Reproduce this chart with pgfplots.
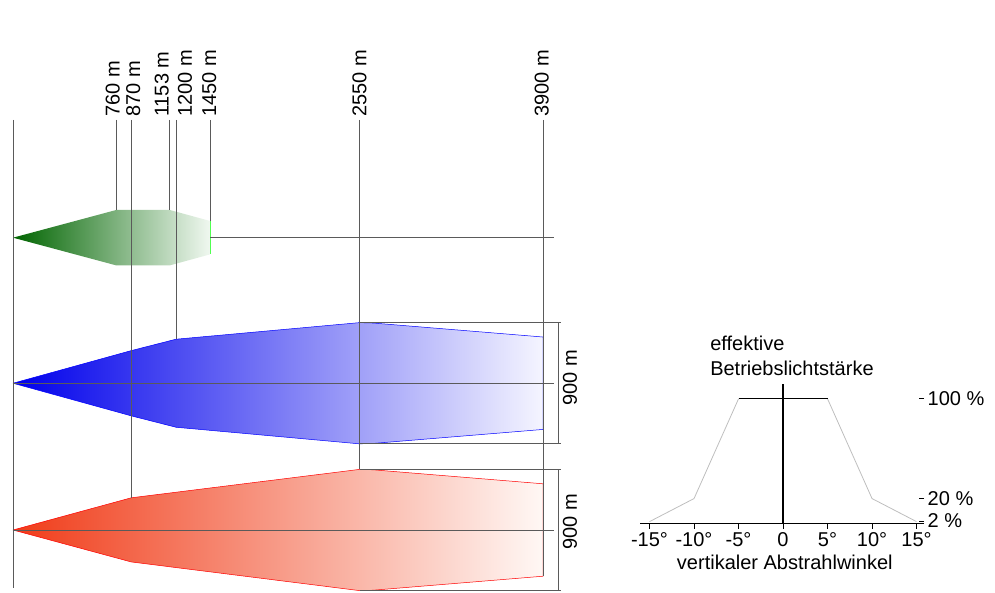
\documentclass[border=0pt]{standalone}
\usepackage{fontspec}
\setmainfont{Liberation Sans}
\usepackage{pgfplots}
\pgfplotsset{compat=1.18}
\definecolor{gdark}{RGB}{0,100,0}
\definecolor{gend}{RGB}{240,248,240}
\definecolor{bdark}{RGB}{0,0,235}
\definecolor{bend}{RGB}{245,245,255}
\definecolor{rdark}{RGB}{240,60,25}
\definecolor{rend}{RGB}{255,248,245}
\definecolor{lin}{RGB}{90,90,90}
\definecolor{lime}{RGB}{80,255,80}
\definecolor{curve}{RGB}{190,190,190}
\begin{document}
\begin{tikzpicture}[font=\fontsize{20}{24}\selectfont]
\begin{axis}[at={(0pt,0pt)}, anchor=south west, scale only axis, hide axis, clip=false,
  x=0.1359pt, y=0.1359pt, xmin=-95.66, xmax=7226, ymin=-456.2, ymax=3900]
% beams
\addplot[draw=none, left color=gdark, right color=gend] coordinates
  {(0,2151) (760,2355) (1153,2355) (1450,2274) (1450,2028) (1153,1947) (760,1947) (0,2151)};
\addplot[draw=blue, line width=0.5pt, left color=bdark, right color=bend] coordinates
  {(0,1080) (870,1320) (1200,1404) (2550,1526) (2650,1523) (3900,1420) (3900,740) (2650,637) (2550,634) (1200,756) (870,840) (0,1080)};
\addplot[draw=red, line width=0.5pt, left color=rdark, right color=rend] coordinates
  {(0,0) (870,237) (2550,446) (2650,443) (3900,340) (3900,-340) (2650,-443) (2550,-446) (870,-235) (0,0)};
\addplot[draw=lime, line width=1pt] coordinates {(1450,2274) (1450,2028)};
% center lines
\addplot[lin, line width=0.7pt] coordinates {(1450,2151) (3981,2151)};
\addplot[lin, line width=0.7pt] coordinates {(0,1080) (3981,1080)};
\addplot[lin, line width=0.7pt] coordinates {(0,0) (3981,0)};
% distance lines
\addplot[lin, line width=0.7pt] coordinates {(0,3017) (0,-427)};
\addplot[lin, line width=0.7pt] coordinates {(760,3017) (760,2355)};
\addplot[lin, line width=0.7pt] coordinates {(870,3017) (870,237)};
\addplot[lin, line width=0.7pt] coordinates {(1153,3017) (1153,2355)};
\addplot[lin, line width=0.7pt] coordinates {(1200,3017) (1200,1404)};
\addplot[lin, line width=0.7pt] coordinates {(1450,3017) (1450,2274)};
\addplot[lin, line width=0.7pt] coordinates {(2550,3017) (2550,446)};
\addplot[lin, line width=0.7pt] coordinates {(3900,3017) (3900,-340)};
% dimension lines
\addplot[lin, line width=0.7pt] coordinates {(2550,1526) (4032,1526)};
\addplot[lin, line width=0.7pt] coordinates {(2550,634) (4032,634)};
\addplot[lin, line width=0.7pt] coordinates {(4013,1526) (4013,634)};
\addplot[lin, line width=0.7pt] coordinates {(2550,446) (4032,446)};
\addplot[lin, line width=0.7pt] coordinates {(2550,-446) (4032,-446)};
\addplot[lin, line width=0.7pt] coordinates {(4013,446) (4013,-446)};
% labels
\foreach \d/\p in {760/733.6, 870/885, 1153/1094, 1200/1266, 1450/1444, 2550/2550, 3900/3890} {
  \edef\temp{\noexpand\node[rotate=90, anchor=west, inner sep=0pt] at (axis cs:\p,3039) {\d\space m};}
  \temp
}
\node[rotate=90, inner sep=0pt] at (axis cs:4099,1118) {900 m};
\node[rotate=90, inner sep=0pt] at (axis cs:4099,59) {900 m};
\end{axis}

\begin{axis}[at={(640pt,68.5pt)}, anchor=south west, scale only axis,
  x=8.9pt, y=1.247pt, xmin=-16.07, xmax=15.3, ymin=0, ymax=112, clip=false,
  axis x line*=bottom, axis y line*=right,
  y axis line style={draw=none}, x axis line style={line width=1.2pt,-},
  xtick={-15,-10,-5,0,5,10,15}, xticklabels={-15°,-10°,-5°,0,5°,10°,15°},
  ytick={0,2,20,100}, yticklabels={{},{2 \%},{20 \%},{100 \%}},
  tick align=outside, major tick length=5pt, tick style={black, line width=0.8pt},
  tick label style={font=\fontsize{20}{24}\selectfont}]
\addplot[curve, line width=0.8pt] coordinates {(-15,1.5) (-10,20) (-5,100)};
\addplot[curve, line width=0.8pt] coordinates {(5,100) (10,20) (15,1.5)};
\addplot[black, line width=1.3pt] coordinates {(-5,100) (5,100)};
\addplot[black, line width=1.3pt] coordinates {(0,0) (0,111.5)};
\node[anchor=base west, inner sep=0pt] at (axis cs:-8.2,139) {effektive};
\node[anchor=base west, inner sep=0pt] at (axis cs:-8.2,118.3) {Betriebslichtstärke};
\node[anchor=base, inner sep=0pt] at (axis cs:0.2,-36.5) {vertikaler Abstrahlwinkel};
\end{axis}
\pgfresetboundingbox
\path[use as bounding box] (0,0) rectangle (995pt,592pt);
\end{tikzpicture}
\end{document}
